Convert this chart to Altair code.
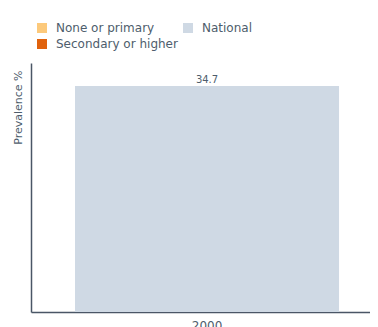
import altair as alt
import pandas as pd

years = ["2000"]
groups = ["National"]
values = [34.7]

legend_order = ["None or primary", "Secondary or higher", "National"]
legend_colors = ["#fcc97b", "#e0620d", "#cfd9e4"]

df = pd.DataFrame({"year": years, "group": groups, "value": values})

FONT = "DejaVu Sans"
TXT = "#4e5d6c"
AX = "#4a5666"

base = alt.Chart(df)

bars = base.mark_bar().encode(
    x=alt.X("year:N",
            scale=alt.Scale(paddingInner=0, paddingOuter=0.142, align=0.587),
            axis=alt.Axis(title=None, labelAngle=0, ticks=False, domainColor=AX,
                          domainWidth=1.5, labelColor=TXT, labelFont=FONT,
                          labelFontSize=12, labelPadding=8)),
    y=alt.Y("value:Q",
            scale=alt.Scale(domain=[0, 38.23], nice=False),
            axis=alt.Axis(title="Prevalence %", labels=False, ticks=False, grid=False,
                          domainColor=AX, domainWidth=1.5, titleColor=TXT,
                          titleFont=FONT, titleFontSize=11, titleFontWeight="normal",
                          titleAnchor="end", titleAngle=270, titleAlign="right",
                          titleBaseline="middle", titleX=-13, titleY=7)),
    color=alt.Color("group:N",
                    scale=alt.Scale(domain=legend_order, range=legend_colors),
                    legend=alt.Legend(title=None, orient="none", legendX=5, legendY=-41,
                                      columns=2, columnPadding=4, rowPadding=4,
                                      symbolType="square", symbolSize=100,
                                      symbolStrokeWidth=0, labelFont=FONT,
                                      labelFontSize=12, labelColor=TXT,
                                      labelOffset=8)),
)

labels = base.mark_text(dy=-6, font=FONT, fontSize=10, color=TXT).encode(
    x="year:N",
    y="value:Q",
    text=alt.Text("value:Q", format=".1f"),
)

chart = (bars + labels).properties(
    width=339, height=249,
    autosize=alt.AutoSizeParams(type="none"),
    padding={"left": 23, "top": 55, "right": 0, "bottom": 15},
).configure_view(stroke=None)

chart.save("out.html", embed_options={"renderer": "svg", "actions": False})
